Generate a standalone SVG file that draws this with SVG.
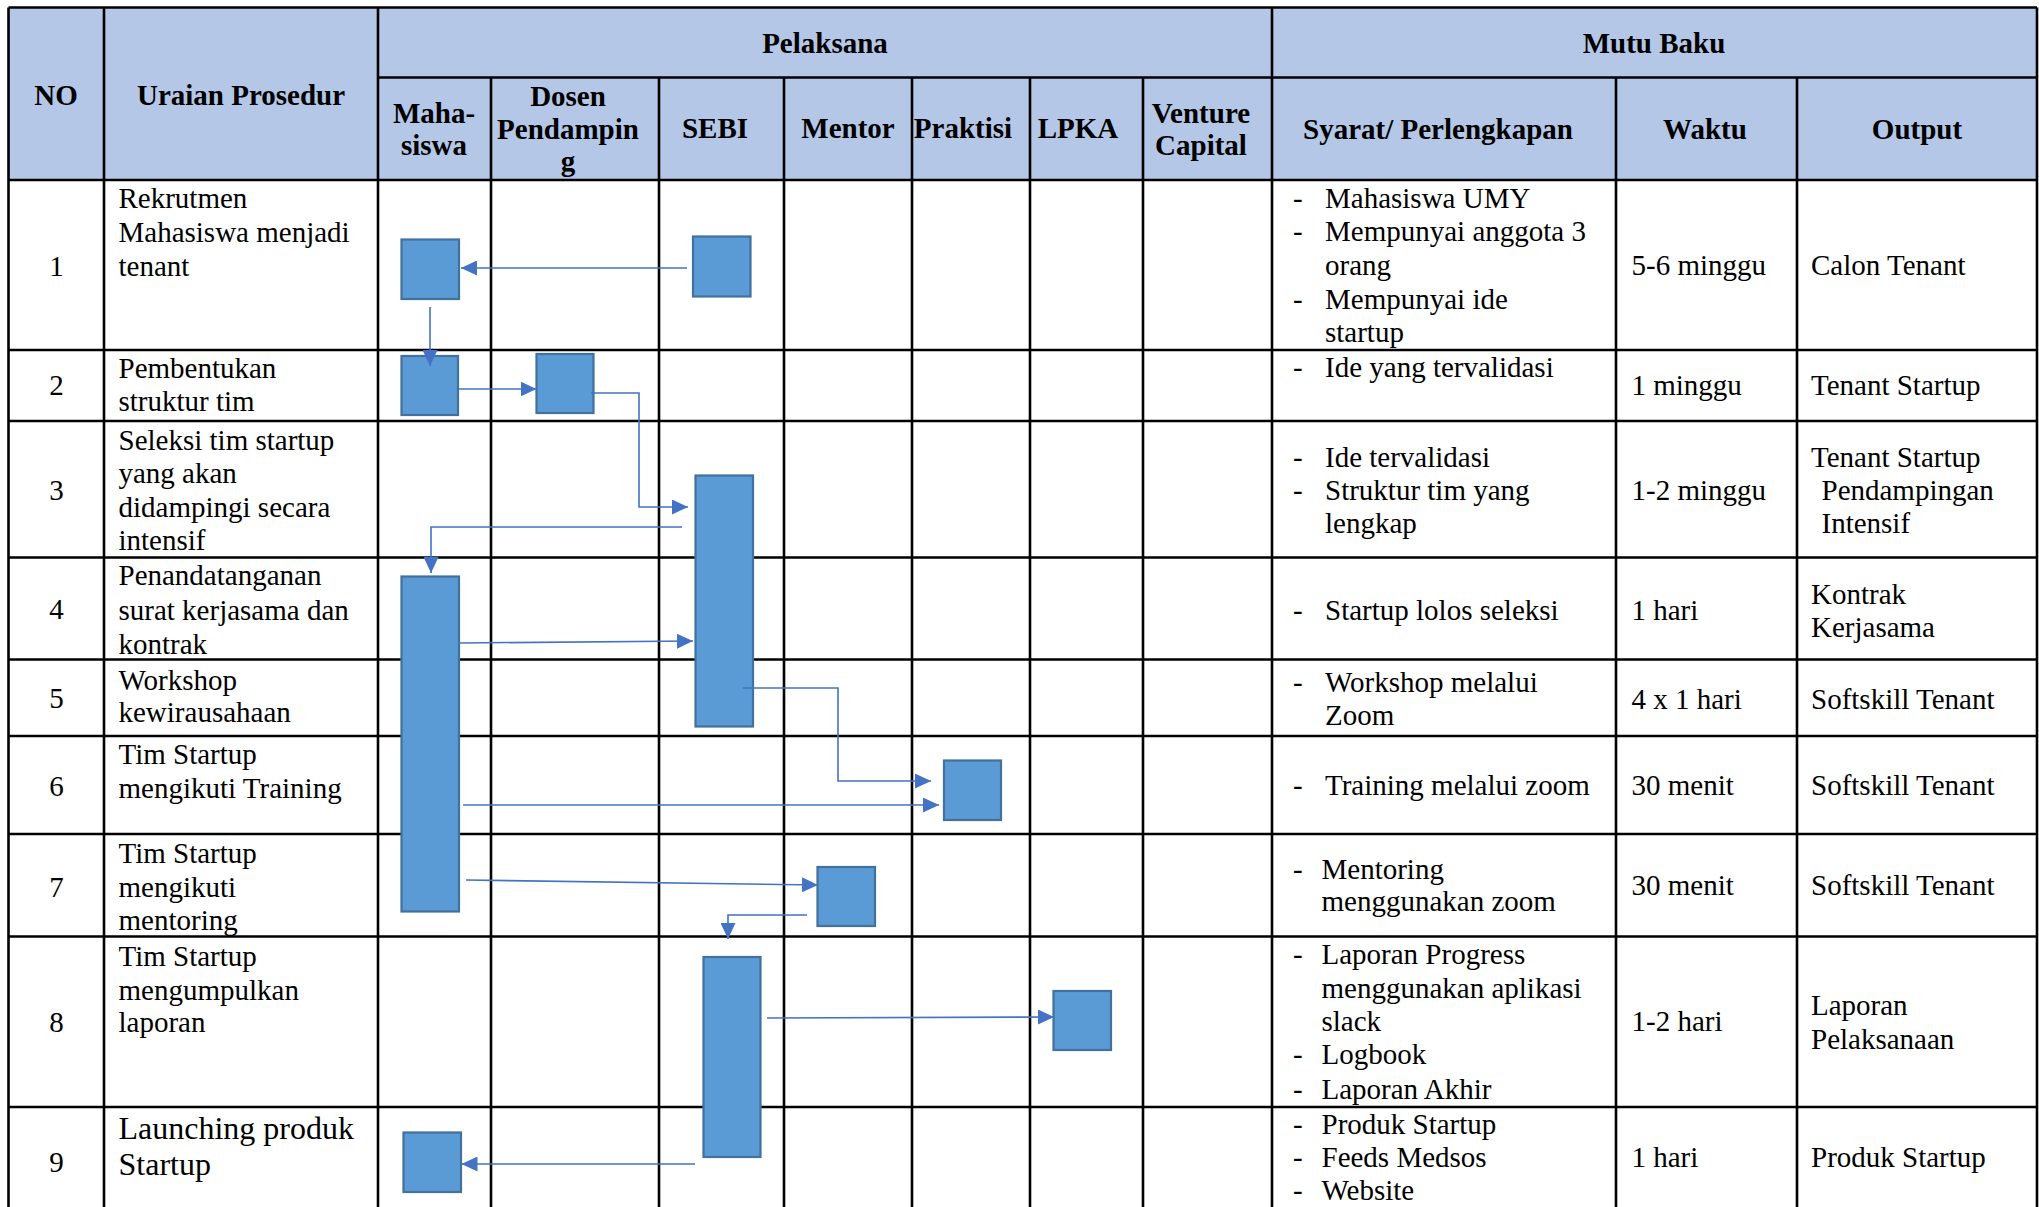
<svg xmlns="http://www.w3.org/2000/svg" width="2039" height="1207" viewBox="0 0 2039 1207">
<defs>
<style>
.h{font-family:"Liberation Serif","Times New Roman",serif;font-weight:bold;font-size:29px;fill:#000;text-anchor:middle}
.t{font-family:"Liberation Serif","Times New Roman",serif;font-size:29px;fill:#000}
.c{text-anchor:middle}
.big{font-size:32px}
.ln{stroke:#000;stroke-width:2.6;fill:none}
.box{fill:#5B9BD5;stroke:#41719C;stroke-width:2.2}
.con{stroke:#4472C4;stroke-width:1.6;fill:none;marker-end:url(#ah)}
</style>
<marker id="ah" markerUnits="userSpaceOnUse" markerWidth="17" markerHeight="15" refX="16" refY="7.5" orient="auto">
<path d="M0,0 L16,7.5 L0,15 z" fill="#4472C4"/>
</marker>
</defs>
<rect width="2039" height="1207" fill="#fff"/>
<rect x="8.5" y="7.5" width="2028.5" height="172.5" fill="#B4C7E7"/>
<g id="grid">
<path class="ln" d="M8.5,7.5 H2037 M378,77.5 H2037 M8.5,180 H2037 M8.5,350 H2037 M8.5,421 H2037 M8.5,557.5 H2037 M8.5,659.5 H2037 M8.5,736 H2037 M8.5,834 H2037 M8.5,936.5 H2037 M8.5,1107 H2037"/>
<path class="ln" d="M8.5,7.5 V1210 M104,7.5 V1210 M378,7.5 V1210 M1272,7.5 V1210 M2037,7.5 V1210 M491,77.5 V1210 M659,77.5 V1210 M784,77.5 V1210 M912,77.5 V1210 M1030,77.5 V1210 M1143,77.5 V1210 M1616,77.5 V1210 M1797,77.5 V1210"/>
</g>
<g id="header">
<text class="h" x="56" y="105">NO</text>
<text class="h" x="241" y="105">Uraian Prosedur</text>
<text class="h" x="825" y="52.5">Pelaksana</text>
<text class="h" x="1654" y="53">Mutu Baku</text>
<text class="h" x="434" y="122.5">Maha-</text>
<text class="h" x="434" y="155">siswa</text>
<text class="h" x="568" y="106">Dosen</text>
<text class="h" x="568" y="138.5">Pendampin</text>
<text class="h" x="568" y="170.5">g</text>
<text class="h" x="715" y="138">SEBI</text>
<text class="h" x="848" y="138">Mentor</text>
<text class="h" x="963" y="138">Praktisi</text>
<text class="h" x="1078" y="138">LPKA</text>
<text class="h" x="1201" y="122.5">Venture</text>
<text class="h" x="1201" y="155">Capital</text>
<text class="h" x="1438" y="138.5">Syarat/ Perlengkapan</text>
<text class="h" x="1705" y="138.5">Waktu</text>
<text class="h" x="1917" y="138.5">Output</text>
</g>
<g id="col-no" class="t c">
<text x="56.5" y="276">1</text>
<text x="56.5" y="395">2</text>
<text x="56.5" y="500">3</text>
<text x="56.5" y="619">4</text>
<text x="56.5" y="708">5</text>
<text x="56.5" y="796">6</text>
<text x="56.5" y="897">7</text>
<text x="56.5" y="1032">8</text>
<text x="56.5" y="1172">9</text>
</g>
<g id="col-uraian" class="t">
<text x="118.5" y="208">Rekrutmen</text>
<text x="118.5" y="242">Mahasiswa menjadi</text>
<text x="118.5" y="276">tenant</text>
<text x="118.5" y="377.5">Pembentukan</text>
<text x="118.5" y="411">struktur tim</text>
<text x="118.5" y="450">Seleksi tim startup</text>
<text x="118.5" y="483">yang akan</text>
<text x="118.5" y="517">didampingi secara</text>
<text x="118.5" y="550">intensif</text>
<text x="118.5" y="585">Penandatanganan</text>
<text x="118.5" y="620">surat kerjasama dan</text>
<text x="118.5" y="654">kontrak</text>
<text x="118.5" y="690">Workshop</text>
<text x="118.5" y="721.5">kewirausahaan</text>
<text x="118.5" y="764">Tim Startup</text>
<text x="118.5" y="798">mengikuti Training</text>
<text x="118.5" y="863">Tim Startup</text>
<text x="118.5" y="897">mengikuti</text>
<text x="118.5" y="930">mentoring</text>
<text x="118.5" y="966">Tim Startup</text>
<text x="118.5" y="999.5">mengumpulkan</text>
<text x="118.5" y="1032">laporan</text>
<text class="big" x="118.5" y="1138.5">Launching produk</text>
<text class="big" x="118.5" y="1174.5">Startup</text>
</g>
<g id="col-syarat" class="t">
<text x="1293" y="207.5">-</text><text x="1325" y="207.5">Mahasiswa UMY</text>
<text x="1293" y="241">-</text><text x="1325" y="241">Mempunyai anggota 3</text>
<text x="1325" y="275">orang</text>
<text x="1293" y="308.5">-</text><text x="1325" y="308.5">Mempunyai ide</text>
<text x="1325" y="342">startup</text>
<text x="1293" y="377">-</text><text x="1325" y="377">Ide yang tervalidasi</text>
<text x="1293" y="467">-</text><text x="1325" y="467">Ide tervalidasi</text>
<text x="1293" y="500">-</text><text x="1325" y="500">Struktur tim yang</text>
<text x="1325" y="533">lengkap</text>
<text x="1293" y="620">-</text><text x="1325" y="620">Startup lolos seleksi</text>
<text x="1293" y="692">-</text><text x="1325" y="692">Workshop melalui</text>
<text x="1325" y="725">Zoom</text>
<text x="1293" y="795">-</text><text x="1325" y="795">Training melalui zoom</text>
<text x="1293" y="878.5">-</text><text x="1321.5" y="878.5">Mentoring</text>
<text x="1321.5" y="911">menggunakan zoom</text>
<text x="1293" y="964">-</text><text x="1321.5" y="964">Laporan Progress</text>
<text x="1321.5" y="997.5">menggunakan aplikasi</text>
<text x="1321.5" y="1031">slack</text>
<text x="1293" y="1064">-</text><text x="1321.5" y="1064">Logbook</text>
<text x="1293" y="1098.5">-</text><text x="1321.5" y="1098.5">Laporan Akhir</text>
<text x="1293" y="1133.5">-</text><text x="1321.5" y="1133.5">Produk Startup</text>
<text x="1293" y="1167">-</text><text x="1321.5" y="1167">Feeds Medsos</text>
<text x="1293" y="1200">-</text><text x="1321.5" y="1200">Website</text>
</g>
<g id="col-waktu" class="t">
<text x="1631.5" y="275">5-6 minggu</text>
<text x="1631.5" y="395">1 minggu</text>
<text x="1631.5" y="500">1-2 minggu</text>
<text x="1631.5" y="620">1 hari</text>
<text x="1631.5" y="708.5">4 x 1 hari</text>
<text x="1631.5" y="795">30 menit</text>
<text x="1631.5" y="895">30 menit</text>
<text x="1631.5" y="1031">1-2 hari</text>
<text x="1631.5" y="1167">1 hari</text>
</g>
<g id="col-output" class="t">
<text x="1811" y="275">Calon Tenant</text>
<text x="1811" y="395">Tenant Startup</text>
<text x="1811" y="467">Tenant Startup</text>
<text x="1821.5" y="500">Pendampingan</text>
<text x="1821.5" y="533">Intensif</text>
<text x="1811" y="603.5">Kontrak</text>
<text x="1811" y="637">Kerjasama</text>
<text x="1811" y="708.5">Softskill Tenant</text>
<text x="1811" y="795">Softskill Tenant</text>
<text x="1811" y="895">Softskill Tenant</text>
<text x="1811" y="1015">Laporan</text>
<text x="1811" y="1048.5">Pelaksanaan</text>
<text x="1811" y="1167">Produk Startup</text>
</g>
<g id="n1-mahasiswa"><rect class="box" x="401.5" y="239.5" width="57.5" height="59.5"/></g>
<g id="n1-sebi"><rect class="box" x="693" y="236.5" width="57.5" height="60"/></g>
<g id="n2-mahasiswa"><rect class="box" x="401.5" y="356" width="56.5" height="59"/></g>
<g id="n2-dosen"><rect class="box" x="536.5" y="354" width="57" height="59"/></g>
<g id="n3-sebi"><rect class="box" x="695.5" y="475.5" width="57.5" height="251"/></g>
<g id="n4-mahasiswa"><rect class="box" x="401.5" y="576.5" width="57.5" height="335"/></g>
<g id="n6-praktisi"><rect class="box" x="944" y="760.5" width="57" height="59.5"/></g>
<g id="n7-mentor"><rect class="box" x="817.5" y="867" width="57.5" height="59"/></g>
<g id="n8-sebi"><rect class="box" x="703.5" y="957" width="57" height="200"/></g>
<g id="n8-lpka"><rect class="box" x="1053.5" y="991" width="57.5" height="59"/></g>
<g id="n9-mahasiswa"><rect class="box" x="403.5" y="1132.5" width="57.5" height="59.5"/></g>
<g id="connectors">
<path class="con" d="M687,268 H461"/>
<path class="con" d="M430,307 V366"/>
<path class="con" d="M459,389 H536.5"/>
<path class="con" d="M591,393 H639 V507 H688"/>
<path class="con" d="M682,527 H431 V573"/>
<path class="con" d="M459,643 L693,641"/>
<path class="con" d="M743,688 H838 V781 H931"/>
<path class="con" d="M463,805 H939"/>
<path class="con" d="M466,880 L818,885"/>
<path class="con" d="M807,915 H728 V939"/>
<path class="con" d="M767,1018 L1054,1017"/>
<path class="con" d="M695,1164 H461.5"/>
</g>
</svg>
